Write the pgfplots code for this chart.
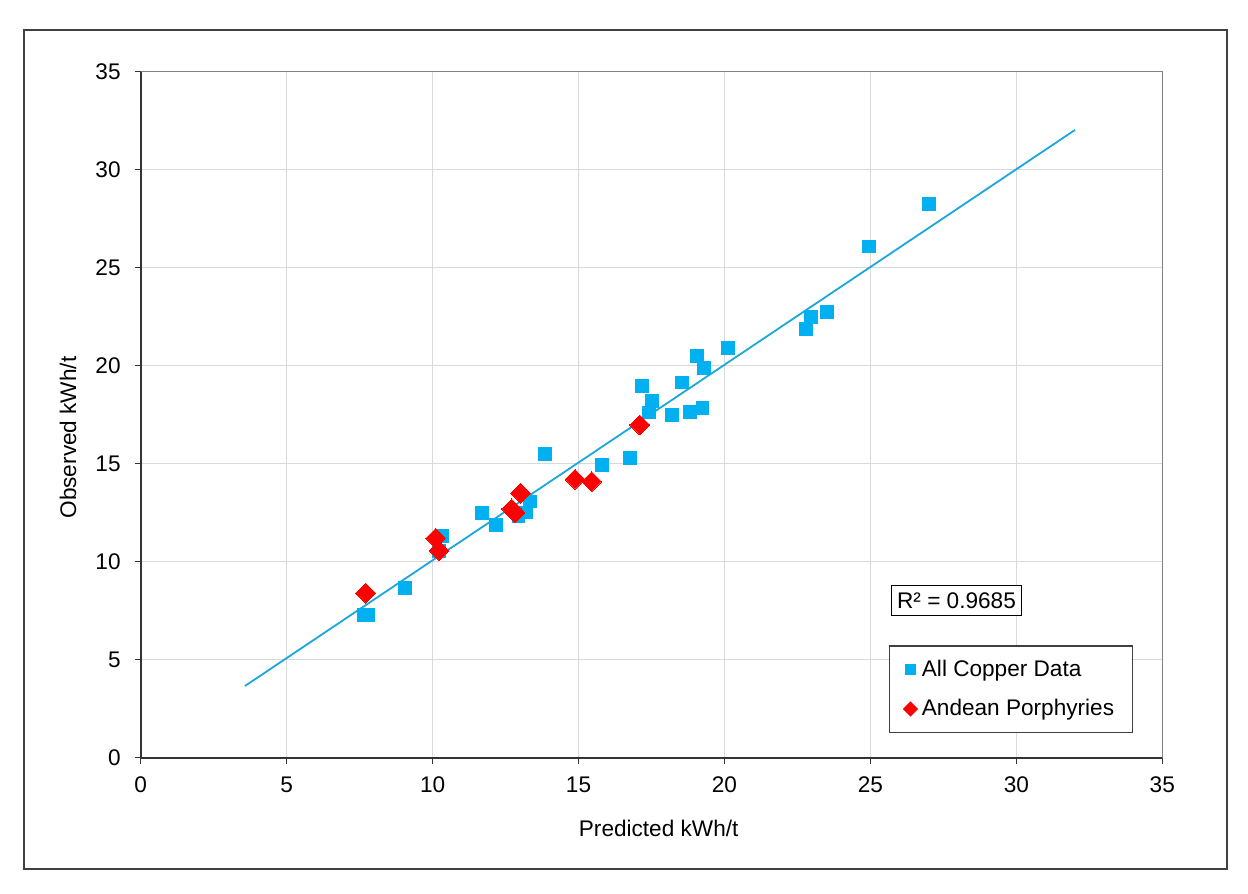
\documentclass[border=0pt]{standalone}
\usepackage{pgfplots}
\pgfplotsset{compat=1.18}
\usepackage{fontspec}
\setmainfont{Liberation Sans}

\definecolor{cuBlue}{HTML}{00B0F0}
\definecolor{trendBlue}{HTML}{1AA7DC}
\definecolor{andRed}{HTML}{FF0000}
\definecolor{gridGray}{HTML}{D9D9D9}

\newcommand{\chartfont}{\fontsize{11.3}{13.5}\selectfont}

\begin{document}
\begin{tikzpicture}[x=1pt,y=1pt]
\useasboundingbox (0,0) rectangle (624,447);
% chart area frame
\draw[black!75, line width=0.7pt] (12,12.5) rectangle (613.5,432);
\begin{axis}[
  at={(70.35pt,68.1pt)}, anchor=south west,
  width=510.8pt, height=343.05pt, scale only axis,
  xmin=0, xmax=35, ymin=0, ymax=35,
  xtick={0,5,...,35}, ytick={0,5,...,35},
  grid=major,
  major grid style={gridGray, line width=0.6pt},
  axis x line*=bottom, axis y line*=left,
  axis line style={black!80, line width=0.9pt},
  tick align=outside, major tick length=3pt,
  tick style={black!80, line width=0.7pt},
  /pgf/number format/assume math mode=true,
  tick label style={font=\chartfont},
  xticklabel style={yshift=-3pt},
  yticklabel style={xshift=-3.5pt},
  label style={font=\chartfont},
  xlabel={Predicted kWh/t},
  ylabel={Observed kWh/t},
  xlabel style={at={(rel axis cs:0.507,-0.1023)}, anchor=center},
  ylabel style={at={(rel axis cs:-0.0712,0.4668)}, anchor=center},
  legend style={at={(rel axis cs:0.732,0.0357)}, anchor=south west,
    draw=black!75, line width=0.6pt, fill=white,
    inner xsep=7pt, inner ysep=5pt, row sep=6pt,
    font=\chartfont,
    /tikz/every even column/.append style={column sep=0pt}},
  legend cell align=left,
  after end axis/.code={
    \draw[black!50, line width=0.7pt] (rel axis cs:0,1) -- (rel axis cs:1,1) -- (rel axis cs:1,0);
  },
]
% all copper data
\addplot[only marks, mark=square*, mark size=3.2pt, draw=none, fill=cuBlue,
  mark options={draw=cuBlue, fill=cuBlue, line width=0pt},
  legend image code/.code={\pgfsetlinewidth{0pt}\fill[cuBlue] (-2.9pt,-2.9pt) rectangle (2.9pt,2.9pt);}]
coordinates {
 (7.63,7.29) (7.80,7.29) (9.05,8.65) (10.22,10.55) (10.31,11.32)
 (11.70,12.48) (12.17,11.88) (12.94,12.31) (13.20,12.51) (13.34,13.07)
 (13.85,15.50) (15.81,14.94) (16.76,15.28) (17.18,18.97) (17.41,17.61)
 (17.53,18.20) (18.21,17.49) (18.54,19.14) (18.82,17.64) (19.25,17.85)
 (19.05,20.50) (19.31,19.90) (20.13,20.92) (22.78,21.88) (22.96,22.47)
 (23.52,22.73) (24.96,26.08) (27.00,28.25)
};
\addlegendentry{All Copper Data}
% Andean porphyries
\addplot[only marks, mark=square*, mark size=3.5pt,
  mark options={rotate=45, draw=andRed, fill=andRed, line width=0pt},
  legend image code/.code={\fill[andRed] (0,-3.4pt) -- (3.4pt,0) -- (0,3.4pt) -- (-3.4pt,0) -- cycle;}]
coordinates {
 (7.71,8.40) (10.11,11.20) (10.22,10.57) (12.71,12.70) (12.82,12.50)
 (13.02,13.50) (14.88,14.21) (15.45,14.09) (17.10,16.98)
};
\addlegendentry{Andean Porphyries}
% linear trend
\addplot[trendBlue, line width=0.9pt, forget plot] coordinates {(3.57,3.66) (32.01,32.03)};
\node[draw=black, line width=0.6pt, fill=white, inner xsep=3pt, inner ysep=3.5pt,
  font=\chartfont] at (axis cs:27.95,8.03) {R² = 0.9685};
\end{axis}
\end{tikzpicture}
\end{document}
